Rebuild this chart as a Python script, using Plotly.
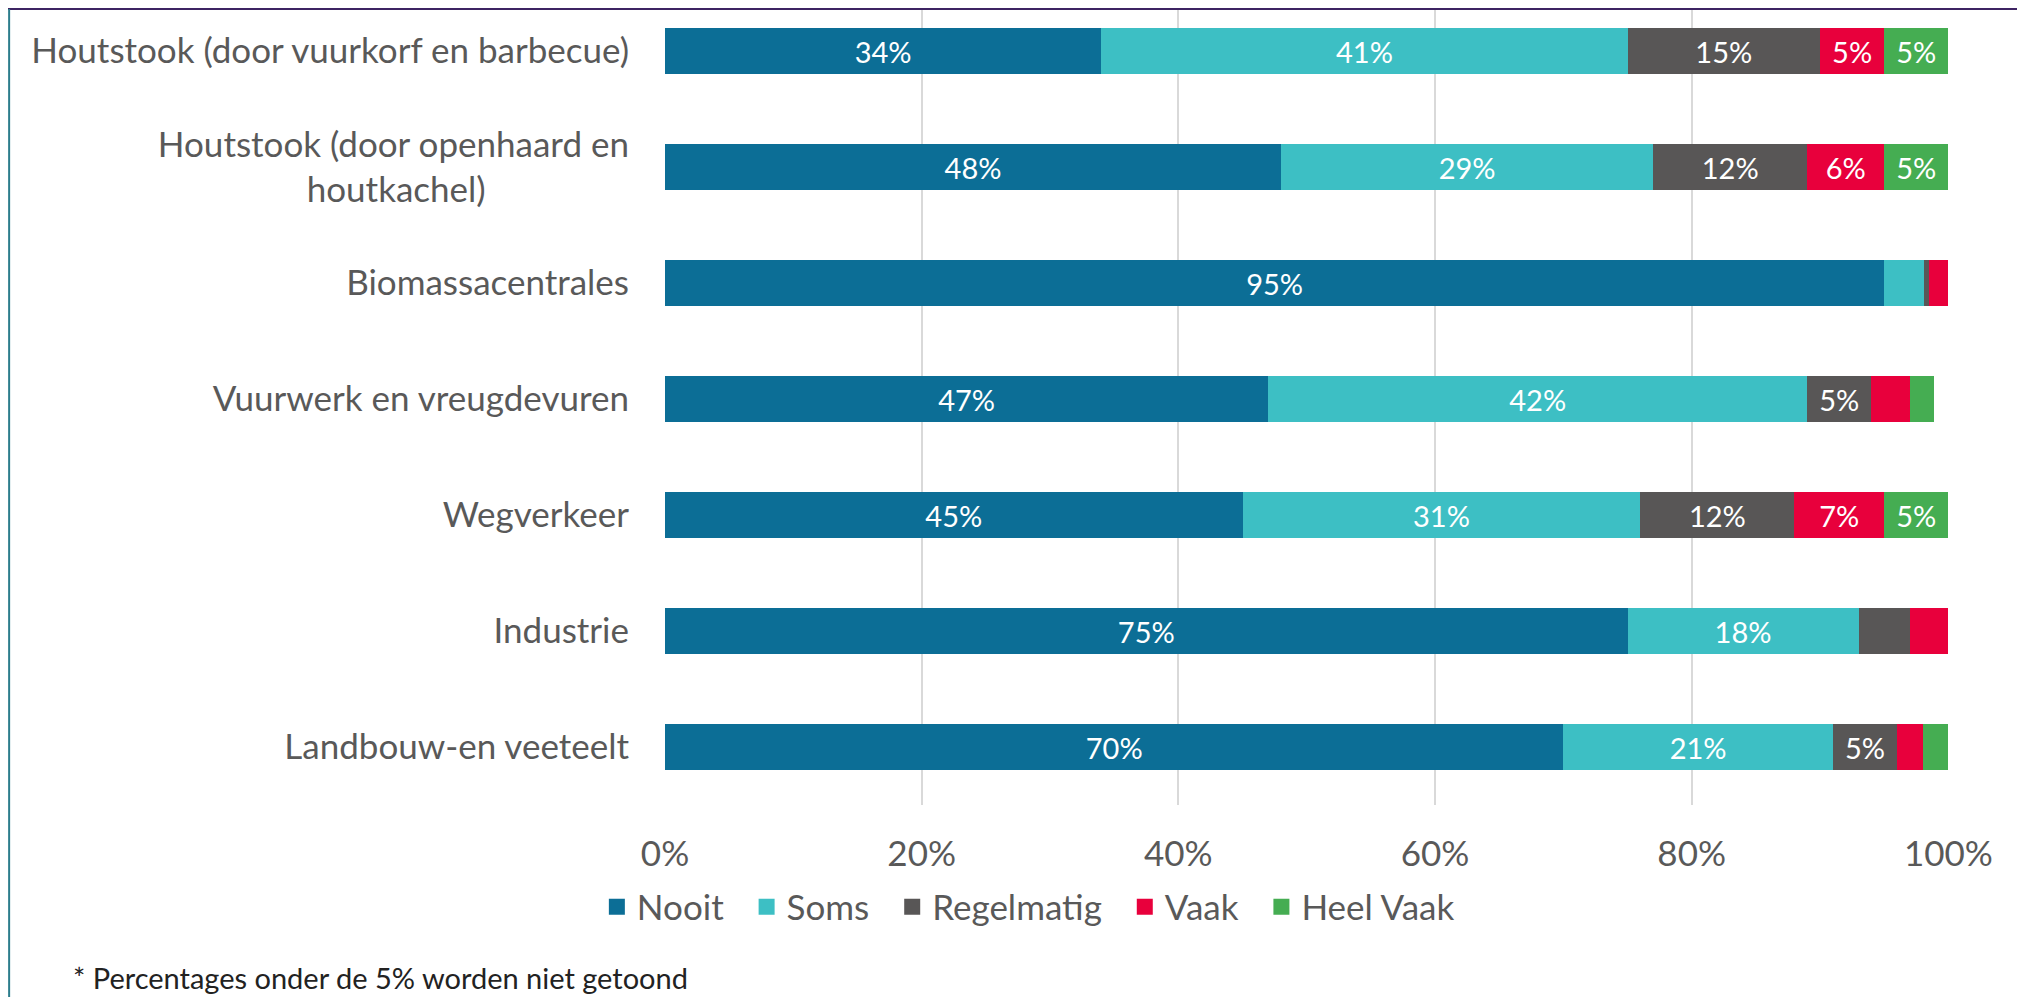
import plotly.graph_objects as go

# Categorieen (van boven naar beneden) en aandelen per antwoord, in procent
categories = [
    "Houtstook (door vuurkorf en barbecue)",
    "Houtstook (door openhaard en<br>houtkachel)" + "\u00a0" * 16,
    "Biomassacentrales",
    "Vuurwerk en vreugdevuren",
    "Wegverkeer",
    "Industrie",
    "Landbouw-en veeteelt",
]
nooit = [34, 48, 95, 47, 45, 75, 70]
soms = [41, 29, 3.1, 42, 31, 18, 21]
regelmatig = [15, 12, 0.4, 5, 12, 4, 5]
vaak = [5, 6, 1.5, 3, 7, 3, 2]
heel_vaak = [5, 5, 0, 1.9, 5, 0, 2]

series = [
    ("Nooit", nooit, "#0C6E96"),
    ("Soms", soms, "#3DBFC4"),
    ("Regelmatig", regelmatig, "#585656"),
    ("Vaak", vaak, "#E8003C"),
    ("Heel Vaak", heel_vaak, "#45AD52"),
]

FONT = "Lato"
GREY = "#595959"
PAD = "\u00a0" * 2  # extra ruimte tussen legenda-items

fig = go.Figure()
for name, vals, color in series:
    # percentages onder de 5% worden niet getoond
    labels = [f"{v:.0f}%" if v >= 4.5 else "" for v in vals]
    fig.add_trace(go.Bar(
        y=categories, x=[v / 100 for v in vals], orientation="h",
        marker=dict(color=color, line=dict(width=0)),
        text=labels, textposition="inside", insidetextanchor="middle",
        textangle=0, textfont=dict(color="white", size=29, family=FONT),
        showlegend=False, name=name,
    ))
    # legenda-items als vierkante markers
    fig.add_trace(go.Scatter(
        x=[None], y=[None], mode="markers", name=name + PAD,
        marker=dict(symbol="square", size=18, color=color),
    ))

# de pagina heeft 8px body-marge: figuur daarom 8px kleiner
fig.update_layout(
    width=2017, height=989,
    barmode="stack", bargap=0.6,
    paper_bgcolor="white", plot_bgcolor="white",
    margin=dict(l=657, r=76, t=0, b=192),
    font=dict(family=FONT, size=35, color=GREY),
    legend=dict(
        orientation="h", xanchor="center", x=0.29, yanchor="middle", y=-0.128,
        font=dict(size=35, color=GREY), itemwidth=30, traceorder="normal",
    ),
    shapes=[
        dict(type="line", xref="paper", yref="paper", x0=-0.512, x1=1.06,
             y0=0.9987, y1=0.9987, line=dict(color="#3E2463", width=2)),
        dict(type="line", xref="paper", yref="paper", x0=-0.5108, x1=-0.5108,
             y0=0.9987, y1=-0.241, line=dict(color="#2C7D8C", width=2)),
        dict(type="line", xref="paper", yref="paper", x0=1.0545, x1=1.0545,
             y0=0.9987, y1=-0.241, line=dict(color="#F3E8F0", width=2)),
    ],
    annotations=[dict(
        text="* Percentages onder de 5% worden niet getoond",
        xref="paper", yref="paper", x=-0.4626, y=-0.217,
        xanchor="left", yanchor="middle", showarrow=False,
        font=dict(size=29, color="#222222", family=FONT),
    )],
)
fig.update_xaxes(
    range=[0, 1.0005], dtick=0.2, tick0=0, tickformat=".0%",
    showgrid=True, gridcolor="#D9D9D9", gridwidth=2, zeroline=False,
    showline=False, ticklabelstandoff=25, fixedrange=True,
)
fig.update_yaxes(
    categoryorder="array", categoryarray=categories,
    range=[6.5, -0.371], showgrid=False, zeroline=False,
    ticklabelstandoff=35, fixedrange=True,
)

fig.write_html("out.html")
